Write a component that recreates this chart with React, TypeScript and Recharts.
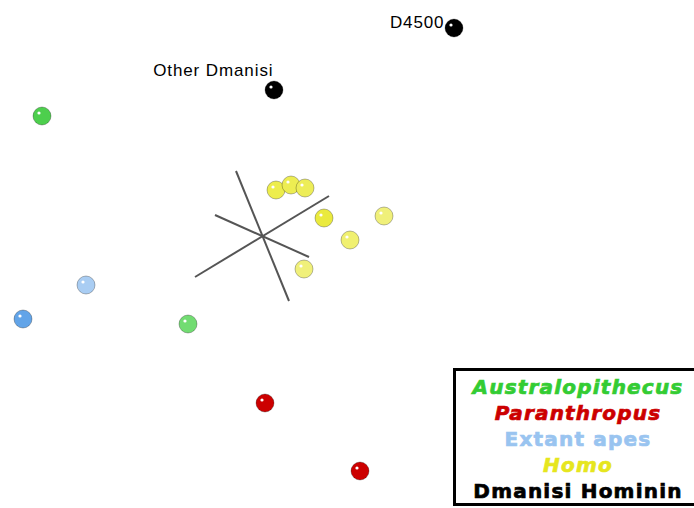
import React from 'react';
import {
  ScatterChart,
  Scatter,
  XAxis,
  YAxis,
  ReferenceLine,
  LabelList,
  Legend,
} from 'recharts';

// projected coordinates (x right, y up) for each specimen
const australopithecus = [
  { x: 42, y: 392, color: '#4dcf4d' },
  { x: 188, y: 184, color: '#72dc72' },
];
const paranthropus = [
  { x: 265, y: 105, color: '#cc0000' },
  { x: 360, y: 37, color: '#cc0000' },
];
const extantApes = [
  { x: 86, y: 223, color: '#a9cdf3' },
  { x: 23, y: 189, color: '#62a4e8' },
];
const homo = [
  { x: 276, y: 318, color: '#eded4c' },
  { x: 291, y: 323, color: '#eded52' },
  { x: 305, y: 320, color: '#eded58' },
  { x: 324, y: 290, color: '#eaea3e' },
  { x: 384, y: 292, color: '#f0f07a' },
  { x: 350, y: 268, color: '#f0f070' },
  { x: 304, y: 239, color: '#f0f07a' },
];
const dmanisi = [
  { x: 454, y: 480, color: '#000000', label: 'D4500' },
  { x: 274, y: 418, color: '#000000', label: 'Other Dmanisi' },
];

// the three projected variable axes
const axisSegments = [
  [{ x: 236, y: 337 }, { x: 289, y: 207 }],
  [{ x: 215, y: 293 }, { x: 309, y: 251 }],
  [{ x: 195, y: 231 }, { x: 329, y: 312 }],
];

const groupOrder = ['Australopithecus', 'Paranthropus', 'Extant apes', 'Homo', 'Dmanisi Hominin'];

const groupStyles: Record<string, React.CSSProperties> = {
  Australopithecus: { color: '#33cc33', fontStyle: 'italic' },
  Paranthropus: { color: '#cc0000', fontStyle: 'italic' },
  'Extant apes': { color: '#99c4f0' },
  Homo: { color: '#e6e61e', fontStyle: 'italic' },
  'Dmanisi Hominin': { color: '#000000' },
};

const Ball = (props: any) => {
  const { cx, cy, payload } = props;
  if (cx == null || cy == null) return null;
  return (
    <g>
      <circle cx={cx} cy={cy} r={9} fill={payload.color} stroke="rgba(0,0,0,0.35)" strokeWidth={0.8} />
      <circle cx={cx - 3} cy={cy - 3} r={1.6} fill="#ffffff" />
    </g>
  );
};

const SpecimenLabel = (props: any) => {
  const { x, y, value } = props;
  const cx = x + 9;
  const cy = y + 9;
  const dx = value === 'D4500' ? -14 : -5;
  const dy = value === 'D4500' ? -9 : -23;
  return (
    <text
      x={cx + dx}
      y={cy + dy}
      textAnchor="end"
      dominantBaseline="middle"
      fontFamily="Liberation Sans, Arial, sans-serif"
      fontSize={17}
      letterSpacing={0.9}
      fill="#000"
    >
      {value}
    </text>
  );
};

const GroupKey = (props: any) => {
  const { payload } = props;
  const items = [...payload].sort(
    (a: any, b: any) => groupOrder.indexOf(a.value) - groupOrder.indexOf(b.value),
  );
  return (
    <div
      style={{
        border: '3px solid #000',
        width: 260,
        height: 138,
        boxSizing: 'border-box',
        paddingTop: 3,
        fontFamily: 'DejaVu Sans, Verdana, sans-serif',
        fontWeight: 'bold',
        fontSize: 20,
        letterSpacing: 1.2,
        lineHeight: '26px',
        WebkitTextStroke: '0.7px currentColor',
      }}
    >
      {items.map((entry: any) => (
        <div key={entry.value} style={{ width: 244, textAlign: 'center', whiteSpace: 'nowrap', ...groupStyles[entry.value] }}>
          {entry.value}
        </div>
      ))}
    </div>
  );
};

export default function App() {
  return (
    <div style={{ position: 'fixed', left: 0, top: 0, width: 694, height: 508, overflow: 'hidden', background: '#fff' }}>
      <ScatterChart width={694} height={508} margin={{ top: 0, right: 0, bottom: 0, left: 0 }}>
        <XAxis type="number" dataKey="x" domain={[0, 694]} hide />
        <YAxis type="number" dataKey="y" domain={[0, 508]} hide />
        {axisSegments.map((seg, i) => (
          <ReferenceLine key={i} segment={seg} stroke="#555" strokeWidth={2} ifOverflow="visible" />
        ))}
        <Legend
          layout="horizontal"
          verticalAlign="middle"
          align="center"
          content={<GroupKey />}
          wrapperStyle={{ left: 453, top: 368, width: 260 }}
        />
        <Scatter name="Australopithecus" data={australopithecus} shape={<Ball />} isAnimationActive={false} />
        <Scatter name="Paranthropus" data={paranthropus} shape={<Ball />} isAnimationActive={false} />
        <Scatter name="Extant apes" data={extantApes} shape={<Ball />} isAnimationActive={false} />
        <Scatter name="Homo" data={homo} shape={<Ball />} isAnimationActive={false} />
        <Scatter name="Dmanisi Hominin" data={dmanisi} shape={<Ball />} isAnimationActive={false}>
          <LabelList dataKey="label" content={<SpecimenLabel />} />
        </Scatter>
      </ScatterChart>
    </div>
  );
}
